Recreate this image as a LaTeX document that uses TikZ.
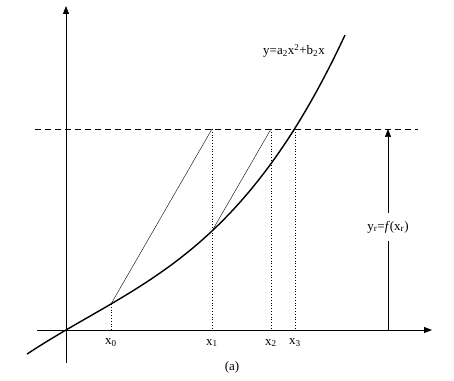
\documentclass[tikz,border=0pt]{standalone}
\usepackage{fontspec}
\setmainfont{Liberation Serif}
\usetikzlibrary{arrows.meta}
\tikzset{
  axis/.style={line width=0.8pt, -{Triangle[length=8pt,width=6pt]}},
  curve/.style={line width=1.4pt},
  chord/.style={line width=0.4pt},
  level/.style={dash pattern=on 6pt off 4pt, line width=0.7pt},
  guide/.style={dotted, line width=0.8pt},
  lbl/.style={font=\fontsize{13}{15}\selectfont, inner sep=1pt}
}

\begin{document}
\begin{tikzpicture}[x=1pt, y=1pt]
  \useasboundingbox (-66,-50) rectangle (388,330);
  % axes
  \coordinate (xl) at (-29,0);
  \coordinate (xr) at (366,0);
  \coordinate (yb) at (0,-33);
  \coordinate (yt) at (0,324);
  \draw[axis] (xl) -- (xr);
  \draw[axis] (yb) -- (yt);
  % y = a2 x^2 + b2 x
  \draw[curve] plot[domain=-0.39:2.79, samples=80, smooth]
    ({100*\x}, {58.53*\x - 5.24*\x*\x + 7.94*\x*\x*\x});
  \node[lbl] (eq) at (228,279) {y=a\textsubscript{2}x\textsuperscript{2}+b\textsubscript{2}x};
  % level y = f(xr)
  \coordinate (dl) at (-31,201);
  \coordinate (dr) at (352,201);
  \draw[level] (dl) -- (dr);
  % points on the curve
  \coordinate (p0) at (45,26);
  \coordinate (p1) at (146,99);
  \coordinate (p2) at (205,166);
  % points on the level
  \coordinate (q1) at (146,201);
  \coordinate (q2) at (205,201);
  \coordinate (q3) at (229,201);
  % foot points
  \coordinate (f0) at (45,0);
  \coordinate (f1) at (146,0);
  \coordinate (f2) at (205,0);
  \coordinate (f3) at (229,0);
  \draw[chord] (p0) -- (q1);
  \draw[chord] (p1) -- (q2);
  \draw[chord] (p2) -- (q3);
  \draw[guide] (p0) -- (f0);
  \draw[guide] (q1) -- (f1);
  \draw[guide] (q2) -- (f2);
  \draw[guide] (q3) -- (f3);
  \node[lbl] (x0) at (45,-13) {x\textsubscript{0}};
  \node[lbl] (x1) at (146,-13) {x\textsubscript{1}};
  \node[lbl] (x2) at (205,-13) {x\textsubscript{2}};
  \node[lbl] (x3) at (229,-13) {x\textsubscript{3}};
  % yr arrow
  \coordinate (r0) at (322,0);
  \coordinate (r1) at (322,201);
  \draw[axis, line width=0.6pt] (r0) -- (r1);
  \node[lbl, fill=white, inner ysep=8pt] (yr) at (322,103) {y\textsubscript{r}=\textit{f}(x\textsubscript{r})};
  \node[lbl] (cap) at (166,-37) {(a)};
\end{tikzpicture}
\end{document}
